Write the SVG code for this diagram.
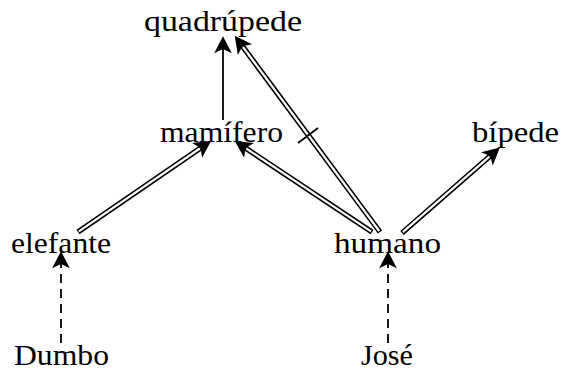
<svg xmlns="http://www.w3.org/2000/svg" width="563" height="371" viewBox="0 0 563 371">
  <style>
    .lbl { font-family: "Liberation Serif", "Times New Roman", serif; font-size: 30px; fill: #000; }
    .single { fill: none; stroke: #000; stroke-width: 1.8; }
    .dashed { fill: none; stroke: #000; stroke-width: 1.8; stroke-dasharray: 9 6; }
    .dbl-outer { fill: none; stroke: #000; stroke-width: 5.4; }
    .dbl-inner { fill: none; stroke: #fff; stroke-width: 2.2; }
    .tick { fill: none; stroke: #000; stroke-width: 1.8; }
  </style>
  <defs>
    <!-- stealth-style head; the path ends at the notch, tip lies 9px further -->
    <marker id="head" markerUnits="userSpaceOnUse" markerWidth="20" markerHeight="20"
            viewBox="-4 -7 14 14" refX="0" refY="0" orient="auto" overflow="visible">
      <path d="M9,0 L-3,-6.2 L0,0 L-3,6.2 Z" fill="#000"/>
    </marker>
  </defs>

  <g id="connectors">
    <!-- mamífero -> quadrúpede -->
    <path class="single" d="M223,120 L223,49" marker-end="url(#head)"/>
    <!-- humano -> quadrúpede (double) -->
    <path class="dbl-outer" d="M380,232 L242.4,46.2" marker-end="url(#head)"/>
    <path class="dbl-inner" d="M379.2,231 L243,47"/>
    <!-- humano -> mamífero (double) -->
    <path class="dbl-outer" d="M372,232 L245.5,148" marker-end="url(#head)"/>
    <path class="dbl-inner" d="M371,231.4 L246.3,148.5"/>
    <!-- elefante -> mamífero (double) -->
    <path class="dbl-outer" d="M78,232 L200.6,148" marker-end="url(#head)"/>
    <path class="dbl-inner" d="M78.8,231.4 L199.8,148.5"/>
    <!-- humano -> bípede (double) -->
    <path class="dbl-outer" d="M402,233 L490.2,156" marker-end="url(#head)"/>
    <path class="dbl-inner" d="M402.8,232.2 L489.4,156.7"/>
    <!-- Dumbo -> elefante -->
    <path class="dashed" d="M61,343 L61,264" marker-end="url(#head)"/>
    <!-- José -> humano -->
    <path class="dashed" d="M388,343 L388,264" marker-end="url(#head)"/>
    <!-- cancellation mark on humano -> quadrúpede -->
    <path class="tick" d="M298,143 L318,128"/>
  </g>

  <g id="quadrupede"><text class="lbl" x="144" y="31" textLength="158" lengthAdjust="spacingAndGlyphs">quadrúpede</text></g>
  <g id="mamifero"><text class="lbl" x="160" y="142" textLength="123" lengthAdjust="spacingAndGlyphs">mamífero</text></g>
  <g id="bipede"><text class="lbl" x="472" y="142" textLength="87" lengthAdjust="spacingAndGlyphs">bípede</text></g>
  <g id="elefante"><text class="lbl" x="11" y="253" textLength="100" lengthAdjust="spacingAndGlyphs">elefante</text></g>
  <g id="humano"><text class="lbl" x="334" y="253" textLength="107" lengthAdjust="spacingAndGlyphs">humano</text></g>
  <g id="dumbo"><text class="lbl" x="14" y="365" textLength="95" lengthAdjust="spacingAndGlyphs">Dumbo</text></g>
  <g id="jose"><text class="lbl" x="361" y="365" textLength="52" lengthAdjust="spacingAndGlyphs">José</text></g>
</svg>
